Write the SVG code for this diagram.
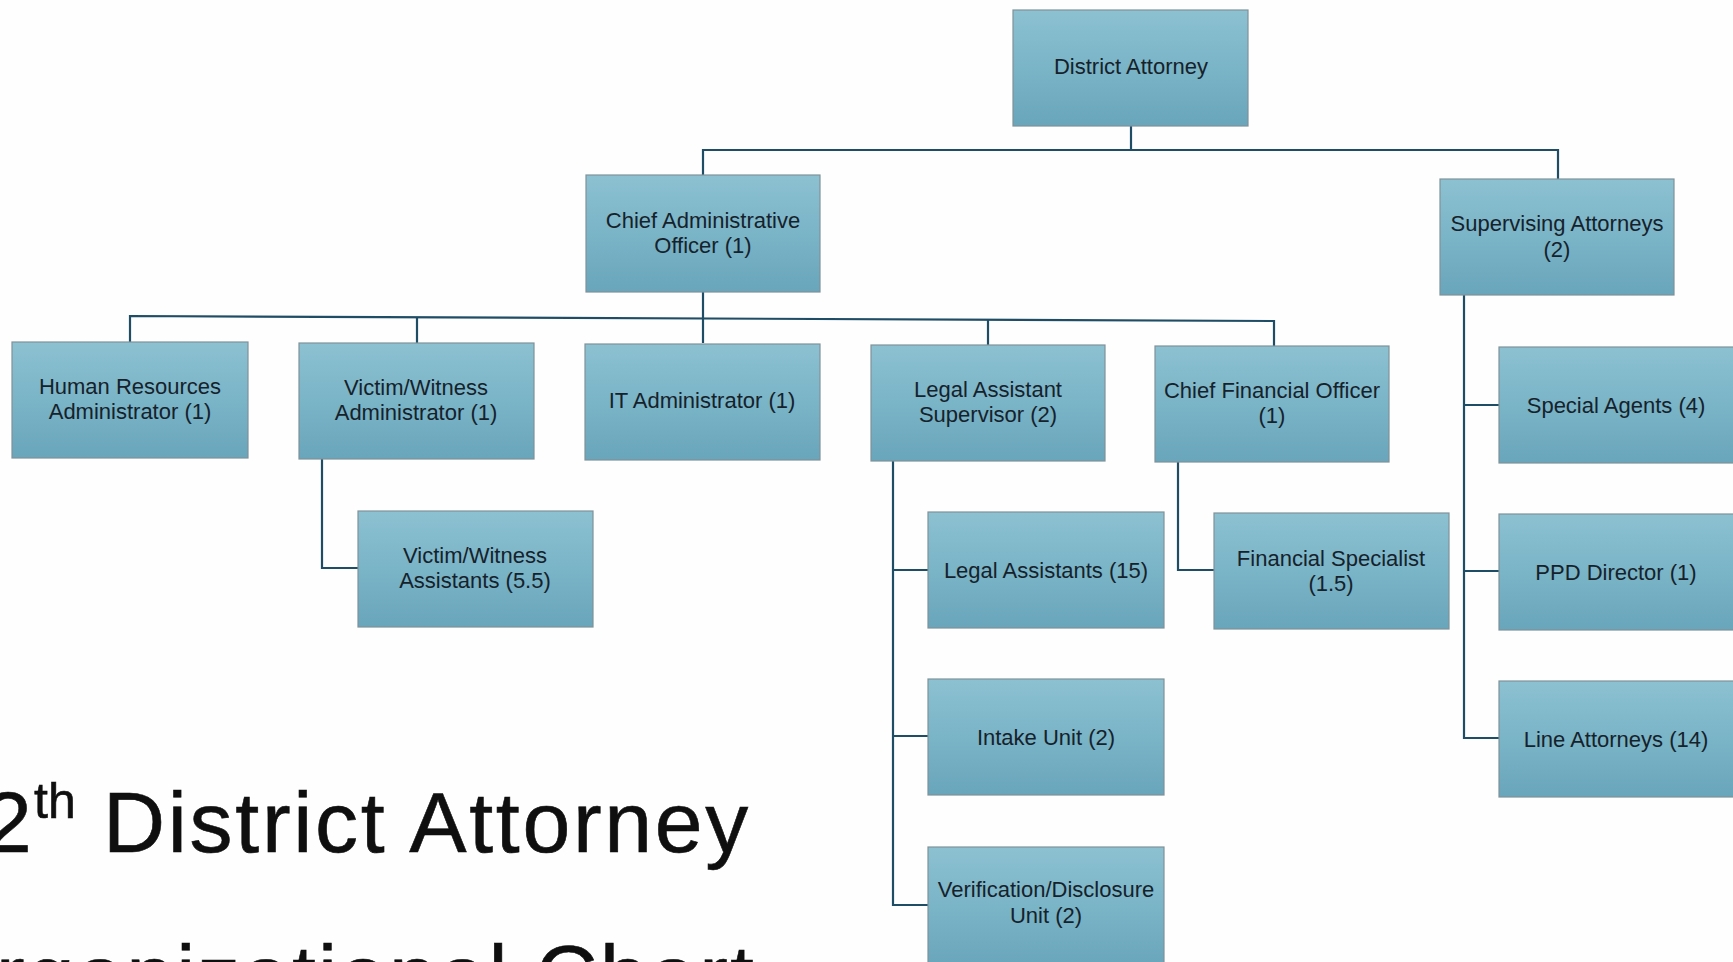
<svg xmlns="http://www.w3.org/2000/svg" width="1733" height="962" viewBox="0 0 1733 962">
<defs>
<linearGradient id="boxg" x1="0" y1="0" x2="0" y2="1">
<stop offset="0" stop-color="#8cc1d1"/>
<stop offset="0.5" stop-color="#7ab4c7"/>
<stop offset="1" stop-color="#69a5bb"/>
</linearGradient>
<style>
.box{fill:url(#boxg);stroke:#7f9299;stroke-width:1.2}
.lbl{font-family:"Liberation Sans",Arial,sans-serif;font-size:22px;fill:#16222b;text-anchor:middle}
.conn{fill:none;stroke:#1f4d66;stroke-width:2.2}
.title{font-family:"Liberation Sans",Arial,sans-serif;fill:#0f0f0f;stroke:#0f0f0f;stroke-width:0.6}
</style>
</defs>
<rect width="1733" height="962" fill="#fefefe"/>
<g id="connectors">
<polyline class="conn" points="1131,126 1131,150"/>
<polyline class="conn" points="703,175 703,150 1558,150 1558,179"/>
<polyline class="conn" points="703,292 703,343"/>
<polyline class="conn" points="130,342 130,316 1274,321 1274,346"/>
<polyline class="conn" points="417,317 417,343"/>
<polyline class="conn" points="988,319 988,345"/>
<polyline class="conn" points="322,459 322,568 358,568"/>
<polyline class="conn" points="893,461 893,905 928,905"/>
<polyline class="conn" points="893,570 928,570"/>
<polyline class="conn" points="893,736 928,736"/>
<polyline class="conn" points="1178,462 1178,570 1214,570"/>
<polyline class="conn" points="1464,295 1464,738 1499,738"/>
<polyline class="conn" points="1464,405 1499,405"/>
<polyline class="conn" points="1464,571 1499,571"/>
</g>
<g id="n-da"><rect class="box" x="1013" y="10" width="235" height="116"/><text class="lbl" x="1131" y="74">District Attorney</text></g>
<g id="n-cao"><rect class="box" x="586" y="175" width="234" height="117"/><text class="lbl" x="703" y="228">Chief Administrative</text><text class="lbl" x="703" y="253">Officer (1)</text></g>
<g id="n-sa"><rect class="box" x="1440" y="179" width="234" height="116"/><text class="lbl" x="1557" y="231">Supervising Attorneys</text><text class="lbl" x="1557" y="257">(2)</text></g>
<g id="n-hr"><rect class="box" x="12" y="342" width="236" height="116"/><text class="lbl" x="130" y="394">Human Resources</text><text class="lbl" x="130" y="419">Administrator (1)</text></g>
<g id="n-vwa"><rect class="box" x="299" y="343" width="235" height="116"/><text class="lbl" x="416" y="395">Victim/Witness</text><text class="lbl" x="416" y="420">Administrator (1)</text></g>
<g id="n-it"><rect class="box" x="585" y="344" width="235" height="116"/><text class="lbl" x="702" y="408">IT Administrator (1)</text></g>
<g id="n-las"><rect class="box" x="871" y="345" width="234" height="116"/><text class="lbl" x="988" y="397">Legal Assistant</text><text class="lbl" x="988" y="422">Supervisor (2)</text></g>
<g id="n-cfo"><rect class="box" x="1155" y="346" width="234" height="116"/><text class="lbl" x="1272" y="398">Chief Financial Officer</text><text class="lbl" x="1272" y="423">(1)</text></g>
<g id="n-spa"><rect class="box" x="1499" y="347" width="236" height="116"/><text class="lbl" x="1616" y="413">Special Agents (4)</text></g>
<g id="n-vwas"><rect class="box" x="358" y="511" width="235" height="116"/><text class="lbl" x="475" y="563">Victim/Witness</text><text class="lbl" x="475" y="588">Assistants (5.5)</text></g>
<g id="n-la"><rect class="box" x="928" y="512" width="236" height="116"/><text class="lbl" x="1046" y="578">Legal Assistants (15)</text></g>
<g id="n-fs"><rect class="box" x="1214" y="513" width="235" height="116"/><text class="lbl" x="1331" y="566">Financial Specialist</text><text class="lbl" x="1331" y="591">(1.5)</text></g>
<g id="n-ppd"><rect class="box" x="1499" y="514" width="236" height="116"/><text class="lbl" x="1616" y="580">PPD Director (1)</text></g>
<g id="n-intake"><rect class="box" x="928" y="679" width="236" height="116"/><text class="lbl" x="1046" y="745">Intake Unit (2)</text></g>
<g id="n-line"><rect class="box" x="1499" y="681" width="236" height="116"/><text class="lbl" x="1616" y="747">Line Attorneys (14)</text></g>
<g id="n-vd"><rect class="box" x="928" y="847" width="236" height="120"/><text class="lbl" x="1046" y="897">Verification/Disclosure</text><text class="lbl" x="1046" y="923">Unit (2)</text></g>
<g id="title">
<text class="title" y="852" font-size="86" letter-spacing="2.7"><tspan x="-16">2</tspan><tspan x="34" y="818" font-size="50" letter-spacing="0">th</tspan><tspan x="103" y="852">District Attorney</tspan></text>
<text class="title" x="-4" y="1005" font-size="86" letter-spacing="2">rganizational Chart</text>
</g>
</svg>
